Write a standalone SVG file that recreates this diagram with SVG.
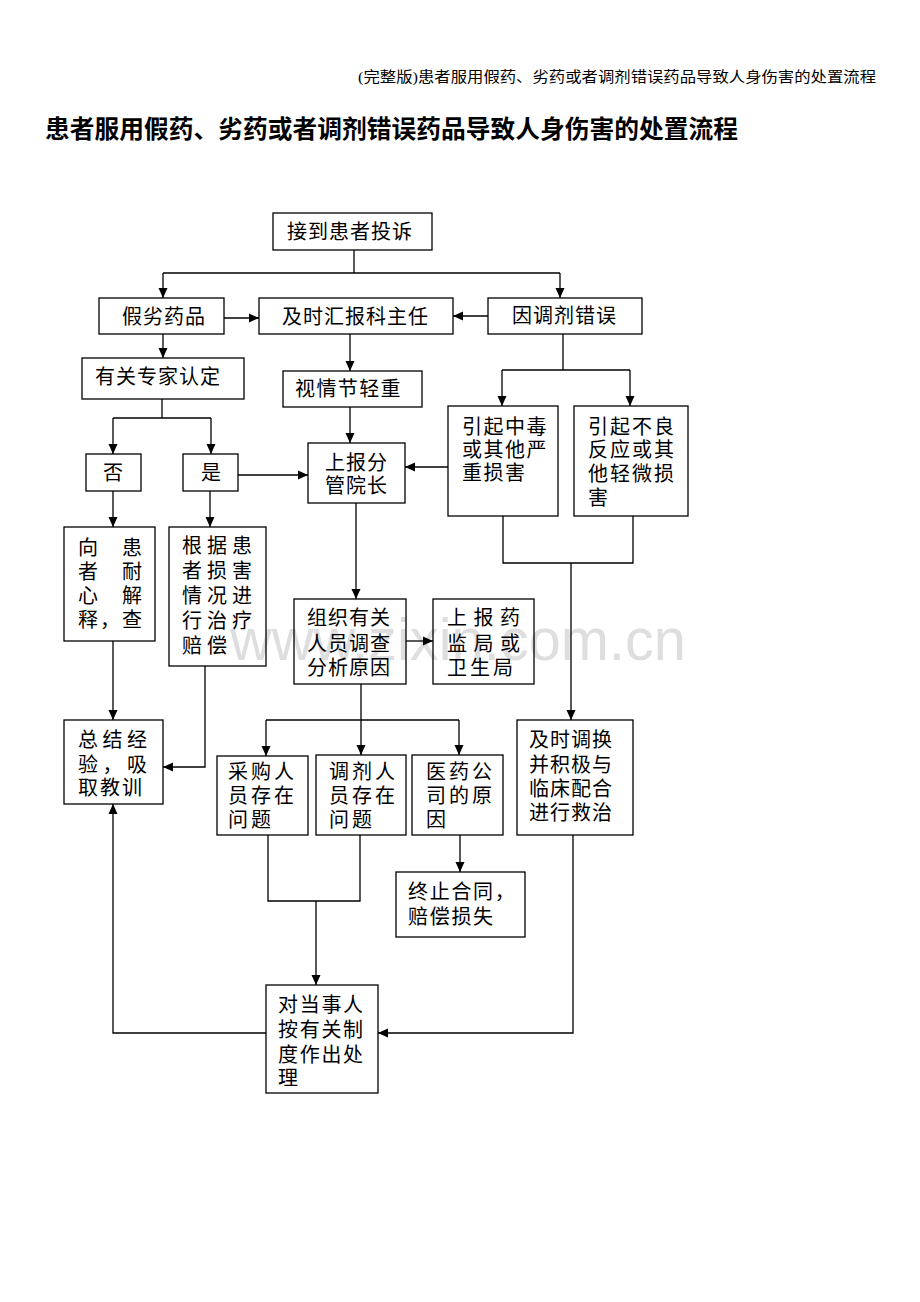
<svg xmlns="http://www.w3.org/2000/svg" width="920" height="1302" viewBox="0 0 920 1302">
<style>
.bg{fill:#fff}
.box{fill:none;stroke:#000;stroke-width:1.3}
.ln{fill:none;stroke:#000;stroke-width:1.3}
.t{font-family:"Liberation Sans","Noto Sans CJK SC",sans-serif;font-size:20px;fill:#000}
.hdr{font-family:"Liberation Serif","Noto Sans CJK SC",serif;font-size:14.5px;fill:#000}
.ttl{font-family:"Liberation Sans","Noto Sans CJK SC",sans-serif;font-size:24.5px;font-weight:bold;fill:#000}
.wm{font-family:"Liberation Sans",Arial,sans-serif;font-size:60px;fill:#dedede}
</style>
<defs>
<marker id="ah" markerUnits="userSpaceOnUse" markerWidth="10" markerHeight="10" viewBox="0 0 10 10" refX="10" refY="5" orient="auto">
<path d="M0,0.5 L10,5 L0,9.5 Z" fill="#000"/>
</marker>
</defs>
<rect class="bg" x="0" y="0" width="920" height="1302"/>
<text class="hdr" x="358" y="82" textLength="518" lengthAdjust="spacingAndGlyphs">(完整版)患者服用假药、劣药或者调剂错误药品导致人身伤害的处置流程</text>
<text class="ttl" x="45" y="138" textLength="693" lengthAdjust="spacingAndGlyphs">患者服用假药、劣药或者调剂错误药品导致人身伤害的处置流程</text>
<text class="wm" x="230" y="660" textLength="456" lengthAdjust="spacingAndGlyphs">www.zixin.com.cn</text>

<g id="connectors">
<polyline class="ln" points="354,250 354,273"/>
<polyline class="ln" points="163,273 560,273"/>
<polyline class="ln" points="163,273 163,298" marker-end="url(#ah)"/>
<polyline class="ln" points="560,273 560,298" marker-end="url(#ah)"/>
<polyline class="ln" points="224,318 259,318" marker-end="url(#ah)"/>
<polyline class="ln" points="488,316 453,316" marker-end="url(#ah)"/>
<polyline class="ln" points="163,334 163,358" marker-end="url(#ah)"/>
<polyline class="ln" points="350,334 350,371" marker-end="url(#ah)"/>
<polyline class="ln" points="162,399 162,418"/>
<polyline class="ln" points="113,418 211,418"/>
<polyline class="ln" points="113,418 113,454" marker-end="url(#ah)"/>
<polyline class="ln" points="211,418 211,454" marker-end="url(#ah)"/>
<polyline class="ln" points="350,407 350,443" marker-end="url(#ah)"/>
<polyline class="ln" points="238,475 308,475" marker-end="url(#ah)"/>
<polyline class="ln" points="563,334 563,370"/>
<polyline class="ln" points="502,370 630,370"/>
<polyline class="ln" points="502,370 502,406" marker-end="url(#ah)"/>
<polyline class="ln" points="630,370 630,406" marker-end="url(#ah)"/>
<polyline class="ln" points="448,467 405,467" marker-end="url(#ah)"/>
<polyline class="ln" points="503,516 503,563 633,563 633,516"/>
<polyline class="ln" points="571,563 571,720" marker-end="url(#ah)"/>
<polyline class="ln" points="113,491 113,527" marker-end="url(#ah)"/>
<polyline class="ln" points="210,491 210,527" marker-end="url(#ah)"/>
<polyline class="ln" points="113,641 113,720" marker-end="url(#ah)"/>
<polyline class="ln" points="205,666 205,767 163,767" marker-end="url(#ah)"/>
<polyline class="ln" points="356,503 356,599" marker-end="url(#ah)"/>
<polyline class="ln" points="406,641 433,641" marker-end="url(#ah)"/>
<polyline class="ln" points="361,684 361,720"/>
<polyline class="ln" points="266,720 459,720"/>
<polyline class="ln" points="266,720 266,756" marker-end="url(#ah)"/>
<polyline class="ln" points="361,720 361,755" marker-end="url(#ah)"/>
<polyline class="ln" points="459,720 459,755" marker-end="url(#ah)"/>
<polyline class="ln" points="268,835 268,901 360,901 360,835"/>
<polyline class="ln" points="316,901 316,985" marker-end="url(#ah)"/>
<polyline class="ln" points="460,835 460,872" marker-end="url(#ah)"/>
<polyline class="ln" points="573,835 573,1033 378,1033" marker-end="url(#ah)"/>
<polyline class="ln" points="266,1033 113,1033 113,804" marker-end="url(#ah)"/>
</g>

<g id="n1"><rect class="box" x="273" y="213" width="159" height="37"/><text class="t" x="287" y="239" letter-spacing="1">接到患者投诉</text></g>
<g id="n2"><rect class="box" x="99" y="298" width="125" height="36"/><text class="t" x="122" y="324" letter-spacing="1">假劣药品</text></g>
<g id="n3"><rect class="box" x="259" y="298" width="194" height="36"/><text class="t" x="282" y="324" letter-spacing="1">及时汇报科主任</text></g>
<g id="n4"><rect class="box" x="488" y="298" width="154" height="36"/><text class="t" x="512" y="323" letter-spacing="1">因调剂错误</text></g>
<g id="n5"><rect class="box" x="82" y="358" width="162" height="41"/><text class="t" x="95" y="384" letter-spacing="1">有关专家认定</text></g>
<g id="n6"><rect class="box" x="283" y="371" width="139" height="36"/><text class="t" x="295" y="396" letter-spacing="1.4">视情节轻重</text></g>
<g id="n7"><rect class="box" x="86" y="454" width="55" height="37"/><text class="t" x="113" y="480" text-anchor="middle">否</text></g>
<g id="n8"><rect class="box" x="183" y="454" width="55" height="37"/><text class="t" x="211" y="480" text-anchor="middle">是</text></g>
<g id="n9"><rect class="box" x="308" y="443" width="97" height="60"/><text class="t" letter-spacing="1"><tspan x="325" y="470">上报分</tspan><tspan x="325" y="493">管院长</tspan></text></g>
<g id="n10"><rect class="box" x="448" y="406" width="110" height="110"/><text class="t" letter-spacing="1.5"><tspan x="462" y="434">引起中毒</tspan><tspan x="462" y="457">或其他严</tspan><tspan x="462" y="480">重损害</tspan></text></g>
<g id="n11"><rect class="box" x="574" y="406" width="114" height="110"/><text class="t" letter-spacing="2"><tspan x="588" y="434">引起不良</tspan><tspan x="588" y="457">反应或其</tspan><tspan x="588" y="481">他轻微损</tspan><tspan x="588" y="505">害</tspan></text></g>
<g id="n12"><rect class="box" x="64" y="527" width="91" height="114"/><text class="t"><tspan x="78" y="555">向</tspan><tspan x="122" y="555">患</tspan><tspan x="78" y="579">者</tspan><tspan x="122" y="579">耐</tspan><tspan x="78" y="603">心</tspan><tspan x="122" y="603">解</tspan><tspan x="78" y="627" letter-spacing="2">释，查</tspan></text></g>
<g id="n13"><rect class="box" x="169" y="527" width="97" height="139"/><text class="t" letter-spacing="5"><tspan x="182" y="553">根据患</tspan><tspan x="182" y="578">者损害</tspan><tspan x="182" y="603">情况进</tspan><tspan x="182" y="628">行治疗</tspan><tspan x="182" y="653">赔偿</tspan></text></g>
<g id="n14"><rect class="box" x="294" y="599" width="112" height="85"/><text class="t" letter-spacing="1"><tspan x="307" y="625">组织有关</tspan><tspan x="307" y="651">人员调查</tspan><tspan x="307" y="675">分析原因</tspan></text></g>
<g id="n15"><rect class="box" x="433" y="599" width="101" height="85"/><text class="t"><tspan x="447" y="625" letter-spacing="6.5">上报药</tspan><tspan x="447" y="651" letter-spacing="6.5">监局或</tspan><tspan x="447" y="675" letter-spacing="3">卫生局</tspan></text></g>
<g id="n16"><rect class="box" x="64" y="720" width="99" height="84"/><text class="t"><tspan x="78" y="747" letter-spacing="4.5">总结经</tspan><tspan x="78" y="772" letter-spacing="4.5">验，吸</tspan><tspan x="78" y="795" letter-spacing="2">取教训</tspan></text></g>
<g id="n17"><rect class="box" x="217" y="756" width="91" height="79"/><text class="t" letter-spacing="3"><tspan x="228" y="779">采购人</tspan><tspan x="228" y="803">员存在</tspan><tspan x="228" y="827">问题</tspan></text></g>
<g id="n18"><rect class="box" x="316" y="755" width="90" height="80"/><text class="t" letter-spacing="3"><tspan x="329" y="779">调剂人</tspan><tspan x="329" y="803">员存在</tspan><tspan x="329" y="827">问题</tspan></text></g>
<g id="n19"><rect class="box" x="412" y="755" width="91" height="80"/><text class="t" letter-spacing="3"><tspan x="426" y="779">医药公</tspan><tspan x="426" y="803">司的原</tspan><tspan x="426" y="827">因</tspan></text></g>
<g id="n20"><rect class="box" x="517" y="720" width="116" height="115"/><text class="t" letter-spacing="1"><tspan x="529" y="747">及时调换</tspan><tspan x="529" y="772">并积极与</tspan><tspan x="529" y="796">临床配合</tspan><tspan x="529" y="820">进行救治</tspan></text></g>
<g id="n21"><rect class="box" x="396" y="872" width="129" height="65"/><text class="t" letter-spacing="1.7"><tspan x="408" y="899">终止合同，</tspan><tspan x="408" y="924">赔偿损失</tspan></text></g>
<g id="n22"><rect class="box" x="266" y="985" width="112" height="108"/><text class="t" letter-spacing="1.7"><tspan x="278" y="1012">对当事人</tspan><tspan x="278" y="1037">按有关制</tspan><tspan x="278" y="1062">度作出处</tspan><tspan x="278" y="1085">理</tspan></text></g>
</svg>
